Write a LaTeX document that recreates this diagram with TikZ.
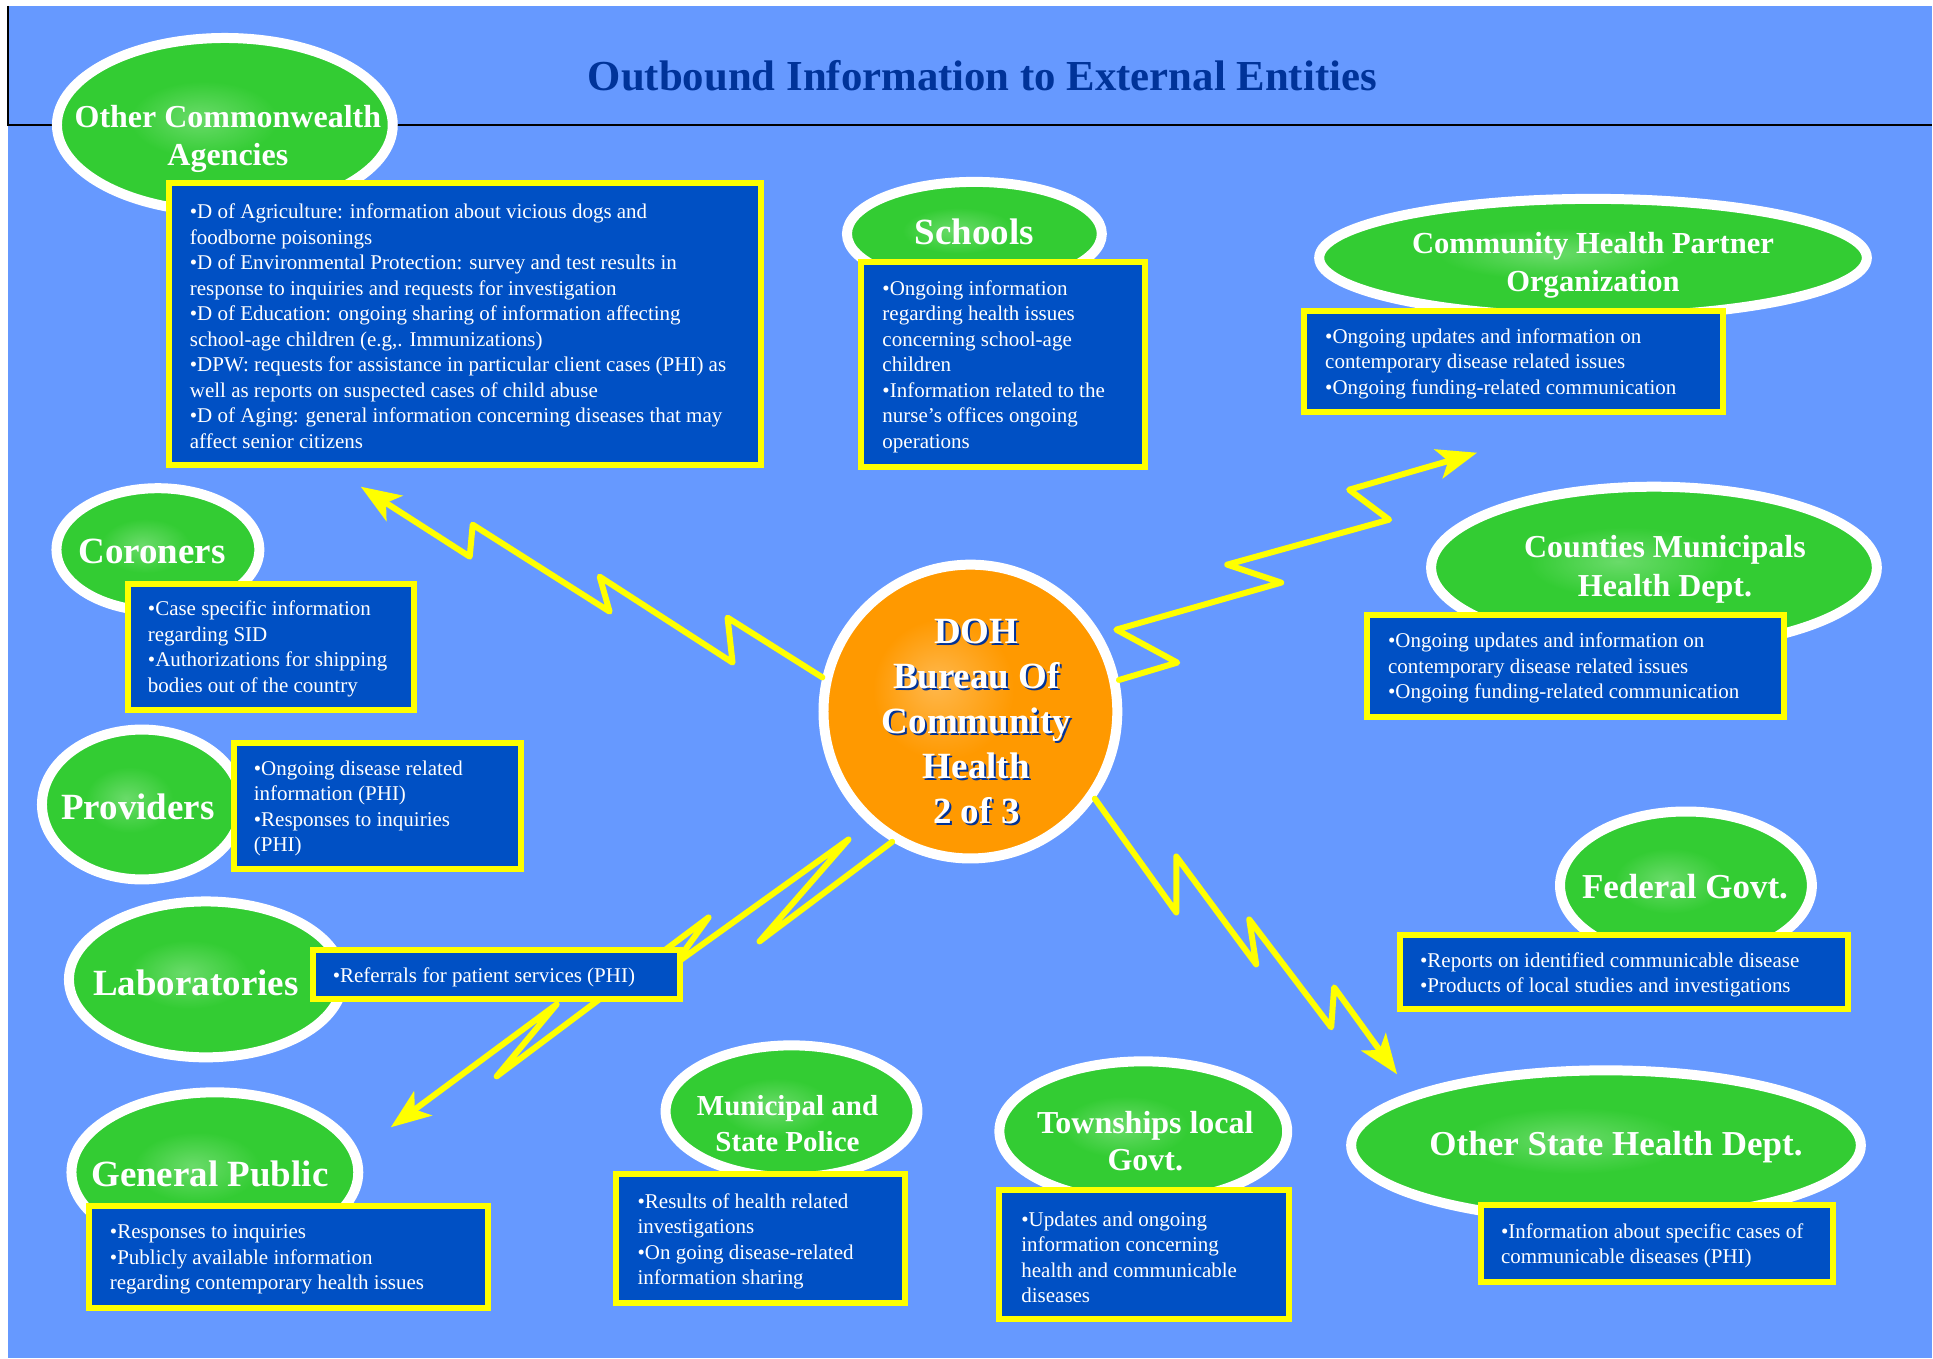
\documentclass[tikz,border=0pt]{standalone}
\usepackage{fontspec}
\setmainfont{Liberation Serif}
\usepackage{xcolor}
\usetikzlibrary{arrows.meta,positioning,shapes}

\definecolor{skyblue}{HTML}{6699FF}
\definecolor{cardblue}{HTML}{0050C4}
\definecolor{navyblue}{HTML}{003399}
\definecolor{leafgreen}{HTML}{33CC33}
\definecolor{leafglow}{HTML}{6ADB6A}
\definecolor{sunorange}{HTML}{FF9900}
\definecolor{sunglow}{HTML}{FFB84D}
\definecolor{boltyellow}{HTML}{FFFF00}

\pgfdeclareradialshading{leafshade}{\pgfpoint{-4bp}{2bp}}%
  {color(0bp)=(leafglow); color(11bp)=(leafgreen); color(50bp)=(leafgreen)}
\pgfdeclareradialshading{sunshade}{\pgfpoint{-6bp}{5bp}}%
  {color(0bp)=(sunglow); color(12bp)=(sunorange); color(50bp)=(sunorange)}

\newcommand{\infofont}{\fontsize{10.5}{12.75}\selectfont}
\newcommand{\tagfont}[2]{\fontsize{#1}{#2}\selectfont\bfseries}

\begin{document}
\begin{tikzpicture}[x=0.5pt,y=-0.5pt]
        \tikzstyle{leaf}
	  =[ellipse, draw=white, line width=5pt, shade, shading=leafshade,
	  inner sep=0pt]
        \tikzstyle{leaftext}
	  =[text=white, align=center, inner sep=0pt]
        \tikzstyle{sun}
	  =[circle, draw=white, line width=5pt, shade, shading=sunshade,
	  inner sep=0pt]
        \tikzstyle{suntext}
	  =[font=\tagfont{18.5}{22.5}, align=center, text=white, inner sep=0pt]
        \tikzstyle{card}
	  =[rectangle, draw=boltyellow, line width=3pt, fill=cardblue,
	  inner sep=0pt]
        \tikzstyle{cardtext}
	  =[text=white, font=\infofont, align=left, inner sep=0pt, outer sep=0pt,
	  yshift=-1.2pt]
        \tikzstyle{bolt}
	  =[draw=boltyellow, line width=3pt, line join=round, line cap=round,
	  -{Stealth[length=20pt,width=15pt,inset=5pt]}]

	% page and header
	\fill[white] (0,0) rectangle (1933,1359);
	\fill[skyblue] (8,6) rectangle (1933,1359);
	\draw[line width=1.2pt] (8,6) -- (8,125) -- (1933,125);
	\useasboundingbox (0,0) rectangle (1933,1359);
	\node[font=\tagfont{21.4}{25}, text=navyblue] (Title)
	  at (983,76) {Outbound Information to External Entities};

	% the bureau
	\node[sun, minimum size=147pt] (Hub)
	  at (971,712) {};
	\node[suntext, text=navyblue] (HubShadow)
	  at (979,724) {DOH\\Bureau Of\\Community\\Health\\2 of 3};
	\node[suntext] (HubText)
	  at (977,722) {DOH\\Bureau Of\\Community\\Health\\2 of 3};

	% lightning arrows
	\coordinate (tipNW) at (361,487);
	\coordinate (tipNE) at (1478,453);
	\coordinate (tipSE) at (1398,1075);
	\coordinate (tipSW) at (391,1128);
	\draw[bolt] (Hub.167) -- (728,618) -- (733,663) -- (600,577)
	  -- (610,612) -- (473,525) -- (470,557) -- (tipNW);
	\draw[bolt] (Hub.12) -- (1178,663) -- (1117,630) -- (1282,583)
	  -- (1228,565) -- (1390,520) -- (1350,490) -- (tipNE);
	\draw[bolt] (Hub.-35) -- (1177,913) -- (1177,857) -- (1257,965)
	  -- (1250,920) -- (1332,1028) -- (1335,988) -- (tipSE);
	\draw[bolt] (Hub.239) -- (760,942) -- (849,840) -- (675,965)
	  -- (709,918) -- (497,1077) -- (557,1005) -- (tipSW);

	% entities
	\node[leaf, minimum width=168pt, minimum height=87pt] (Agc)
	  at (225,125) {};
	\node[leaftext, font=\tagfont{16}{19}] (AgcL)
	  at (228,139) {Other Commonwealth\\Agencies};
	\node[leaf, minimum width=127.5pt, minimum height=52pt] (Sch)
	  at (975,234) {};
	\node[leaftext, font=\tagfont{18.5}{22}] (SchL)
	  at (975,232) {Schools};
	\node[leaf, minimum width=274pt, minimum height=59pt] (Chp)
	  at (1594,258) {};
	\node[leaftext, font=\tagfont{15.3}{19}] (ChpL)
	  at (1594,265) {Community Health Partner\\Organization};
	\node[leaf, minimum width=223pt, minimum height=81pt] (Cty)
	  at (1655,568) {};
	\node[leaftext, font=\tagfont{16}{19.5}] (CtyL)
	  at (1666,570) {Counties Municipals\\Health Dept.};
	\node[leaf, minimum width=101.5pt, minimum height=61.5pt] (Cor)
	  at (158,550) {};
	\node[leaftext, font=\tagfont{18.5}{22}] (CorL)
	  at (152,552) {Coroners};
	\node[leaf, minimum width=100pt, minimum height=75pt] (Prv)
	  at (142,805) {};
	\node[leaftext, font=\tagfont{18.5}{22}] (PrvL)
	  at (138,807) {Providers};
	\node[leaf, minimum width=137pt, minimum height=78pt] (Lab)
	  at (206,980) {};
	\node[leaftext, font=\tagfont{18.5}{22}] (LabL)
	  at (196,983) {Laboratories};
	\node[leaf, minimum width=143.5pt, minimum height=80pt] (Pub)
	  at (215,1173) {};
	\node[leaftext, font=\tagfont{18.5}{22}] (PubL)
	  at (210,1175) {General Public};
	\node[leaf, minimum width=126pt, minimum height=66pt] (Pol)
	  at (792,1112) {};
	\node[leaftext, font=\tagfont{14.5}{18}] (PolL)
	  at (788,1124) {Municipal and\\State Police};
	\node[leaf, minimum width=144pt, minimum height=70pt] (Twp)
	  at (1144,1132) {};
	\node[leaftext, font=\tagfont{16}{18.5}] (TwpL)
	  at (1146,1142) {Townships local\\Govt.};
	\node[leaf, minimum width=126pt, minimum height=74pt] (Fed)
	  at (1687,886) {};
	\node[leaftext, font=\tagfont{17.5}{21}] (FedL)
	  at (1686,887) {Federal Govt.};
	\node[leaf, minimum width=255pt, minimum height=75pt] (Osh)
	  at (1607,1146) {};
	\node[leaftext, font=\tagfont{17.5}{21}] (OshL)
	  at (1617,1148) {Other State Health Dept.};

	% what goes out to each of them
	\node[card, minimum width=296pt, minimum height=141pt] (AgcB)
	  at (465,324) {};
	\node[cardtext] (AgcT)
	  [right=12pt of AgcB.west] {•D of Agriculture: information about vicious dogs and\\
	  foodborne poisonings\\
	  •D of Environmental Protection: survey and test results in\\
	  response to inquiries and requests for investigation\\
	  •D of Education: ongoing sharing of information affecting\\
	  school-age children (e.g,. Immunizations)\\
	  •DPW: requests for assistance in particular client cases (PHI) as\\
	  well as reports on suspected cases of child abuse\\
	  •D of Aging: general information concerning diseases that may\\
	  affect senior citizens};
	\node[card, minimum width=142pt, minimum height=102.5pt] (SchB)
	  at (1004,364.5) {};
	\node[cardtext] (SchT)
	  [right=12pt of SchB.west] {•Ongoing information\\regarding health issues\\
	  concerning school-age\\children\\•Information related to the\\
	  nurse’s offices ongoing\\operations};
	\node[card, minimum width=209.5pt, minimum height=50.5pt] (ChpB)
	  at (1514.5,361.5) {};
	\node[cardtext] (ChpT)
	  [right=12pt of ChpB.west] {•Ongoing updates and information on\\
	  contemporary disease related issues\\•Ongoing funding-related communication};
	\node[card, minimum width=208.5pt, minimum height=51pt] (CtyB)
	  at (1576.5,666) {};
	\node[cardtext] (CtyT)
	  [right=12pt of CtyB.west] {•Ongoing updates and information on\\
	  contemporary disease related issues\\•Ongoing funding-related communication};
	\node[card, minimum width=143pt, minimum height=63pt] (CorB)
	  at (271,647) {};
	\node[cardtext] (CorT)
	  [right=11.5pt of CorB.west] {•Case specific information\\regarding SID\\
	  •Authorizations for shipping\\bodies out of the country};
	\node[card, minimum width=143.5pt, minimum height=63.5pt] (PrvB)
	  at (377.5,806.5) {};
	\node[cardtext] (PrvT)
	  [right=11.5pt of PrvB.west] {•Ongoing disease related\\information (PHI)\\
	  •Responses to inquiries\\(PHI)};
	\node[card, minimum width=183.5pt, minimum height=24.5pt] (LabB)
	  at (496.5,975.5) {};
	\node[cardtext] (LabT)
	  [right=11.5pt of LabB.west] {•Referrals for patient services (PHI)};
	\node[card, minimum width=199.5pt, minimum height=51pt] (PubB)
	  at (288.5,1258) {};
	\node[cardtext] (PubT)
	  [right=12pt of PubB.west] {•Responses to inquiries\\•Publicly available information\\
	  regarding contemporary health issues};
	\node[card, minimum width=145pt, minimum height=64.5pt] (PolB)
	  at (761,1239.5) {};
	\node[cardtext] (PolT)
	  [right=12.5pt of PolB.west] {•Results of health related\\investigations\\
	  •On going disease-related\\information sharing};
	\node[card, minimum width=145pt, minimum height=64.5pt] (TwpB)
	  at (1145,1255.5) {};
	\node[cardtext] (TwpT)
	  [right=12.5pt of TwpB.west] {•Updates and ongoing\\information concerning\\
	  health and communicable\\diseases};
	\node[card, minimum width=224pt, minimum height=37pt] (FedB)
	  at (1625,973) {};
	\node[cardtext] (FedT)
	  [right=11.5pt of FedB.west] {•Reports on identified communicable disease\\
	  •Products of local studies and investigations};
	\node[card, minimum width=176pt, minimum height=38.5pt] (OshB)
	  at (1658,1244) {};
	\node[cardtext] (OshT)
	  [right=11.5pt of OshB.west] {•Information about specific cases of\\
	  communicable diseases (PHI)};
    \end{tikzpicture}
\end{document}
